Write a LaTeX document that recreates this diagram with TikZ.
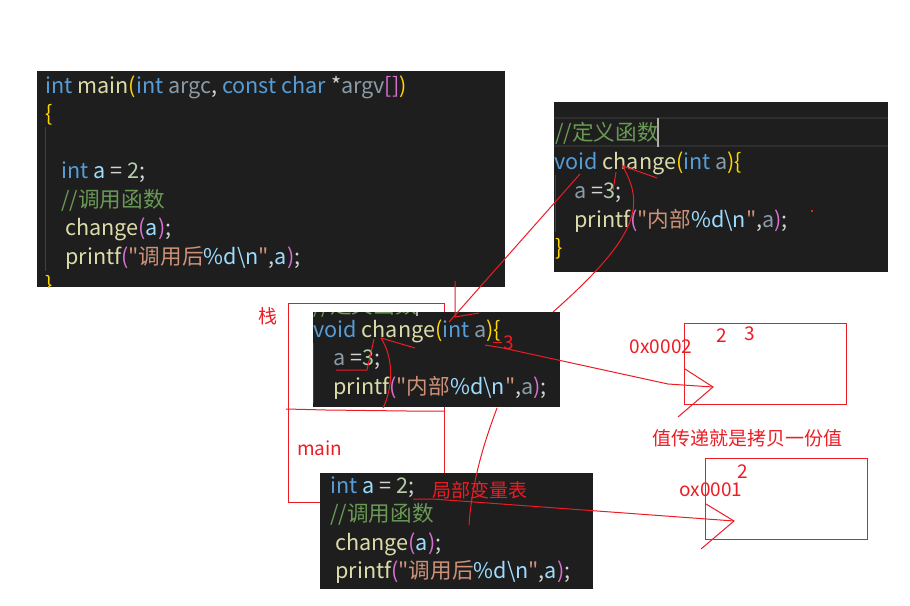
\documentclass[tikz,border=0pt]{standalone}
\usepackage{fontspec}
\setmainfont{Noto Sans CJK SC}[Ligatures=TeXOff]
\definecolor{codebg}{HTML}{1E1E1E}
\definecolor{kwblue}{HTML}{569CD6}
\definecolor{fnyellow}{HTML}{DCDCAA}
\definecolor{varblue}{HTML}{9CDCFE}
\definecolor{vardim}{HTML}{8A9BA8}
\definecolor{numgreen}{HTML}{B5CEA8}
\definecolor{strorange}{HTML}{CE9178}
\definecolor{comgreen}{HTML}{6A9955}
\definecolor{brgold}{HTML}{FFD700}
\definecolor{brpink}{HTML}{DA70D6}
\definecolor{optext}{HTML}{D4D4D4}
\definecolor{guidegray}{HTML}{404040}
\definecolor{linehl}{HTML}{2E2E2E}
\definecolor{cursorgray}{HTML}{AEAFAD}
\definecolor{anno}{RGB}{237,28,36}
\newcommand\codefont{\fontsize{10.8}{13}\selectfont}
\newcommand\notefont{\fontsize{9.5}{11}\selectfont}
\newcommand\ckw[1]{\textcolor{kwblue}{#1}}
\newcommand\cfn[1]{\textcolor{fnyellow}{#1}}
\newcommand\cvar[1]{\textcolor{varblue}{#1}}
\newcommand\cdim[1]{\textcolor{vardim}{#1}}
\newcommand\cnum[1]{\textcolor{numgreen}{#1}}
\newcommand\cstr[1]{\textcolor{strorange}{#1}}
\newcommand\ccom[1]{\textcolor{comgreen}{#1}}
\newcommand\cpa[1]{\textcolor{brgold}{#1}}
\newcommand\cpb[1]{\textcolor{brpink}{#1}}
\newcommand\cop[1]{\textcolor{optext}{#1}}
\tikzset{
  code/.style={anchor=base west, inner sep=0pt, font=\codefont},
  note/.style={text=anno, inner sep=0pt, font=\notefont},
  pen/.style={draw=anno, line width=0.5pt},
  guide/.style={draw=guidegray, line width=0.5pt}
}
\begin{document}
\begin{tikzpicture}[x=0.5pt,y=-0.5pt]
  \useasboundingbox (0,0) rectangle (910,605);
  % main() listing, top left
  \begin{scope}
    \clip (37,71) rectangle (505,287);
    \fill[codebg] (37,71) rectangle (505,287);
    \draw[guide] (45.5,127) -- (45.5,271);
    \node[code] (a1) at (45,93) {\ckw{int} \cfn{main}\cpa{(}\ckw{int} \cdim{argc}\cop{,} \ckw{const char} \cop{*}\cdim{argv}\cpb{[]}\cpa{)}};
    \node[code] (a2) at (45,121.5) {\cpa{\{}};
    \node[code] (a3) at (61,178.5) {\ckw{int} \cvar{a} \cop{=} \cnum{2}\cop{;}};
    \node[code] (a4) at (61,207) {\ccom{//调用函数}};
    \node[code] (a5) at (65,235.5) {\cfn{change}\cpb{(}\cvar{a}\cpb{)}\cop{;}};
    \node[code] (a6) at (65,264) {\cfn{printf}\cpb{(}\cstr{"调用后}\cvar{\%d\textbackslash n}\cstr{"}\cop{,}\cvar{a}\cpb{)}\cop{;}};
    \node[code] (a7) at (45,292.5) {\cpa{\}}};
  \end{scope}
  % change() listing, top right
  \begin{scope}
    \clip (554,102) rectangle (888,272);
    \fill[codebg] (554,102) rectangle (888,272);
    \draw[linehl, line width=0.7pt] (554,118) -- (888,118);
    \draw[linehl, line width=0.7pt] (554,146) -- (888,146);
    \fill[cursorgray] (657,118) rectangle (659,147);
    \draw[guide] (555.5,175) -- (555.5,232);
    \node[code] (b1) at (555,140.5) {\ccom{//定义函数}};
    \node[code] (b2) at (554,169) {\ckw{void} \cfn{change}\cpa{(}\ckw{int} \cdim{a}\cpa{)\{}};
    \node[code] (b3) at (574,198) {\cdim{a} \cop{=}\cnum{3}\cop{;}};
    \node[code] (b4) at (574,227) {\cfn{printf}\cpb{(}\cstr{"内部}\cvar{\%d\textbackslash n}\cstr{"}\cop{,}\cdim{a}\cpb{)}\cop{;}};
    \node[code] (b5) at (555,255.5) {\cpa{\}}};
  \end{scope}
  % stack outline, split into two frames
  \draw[pen] (288,303) rectangle (444,502);
  \draw[pen] (286,409) -- (326,410) -- (407,411) -- (445,411);
  \node[note] (zhan) at (268,316.5) {栈};
  \node[note, anchor=west] (mainlbl) at (297,448) {main};
  % change() frame on the stack
  \begin{scope}
    \clip (313,312) rectangle (560,407);
    \fill[codebg] (313,312) rectangle (560,407);
    \fill[cursorgray] (416,312) rectangle (418,316);
    \draw[guide] (313.5,343) -- (313.5,403);
    \node[code] (c1) at (313,313.5) {\ccom{//定义函数}};
    \node[code] (c2) at (313,337) {\ckw{void} \cfn{change}\cpa{(}\ckw{int} \cdim{a}\cpa{)\{}};
    \node[code] (c3) at (333,365.5) {\cdim{a} \cop{=}\cnum{3}\cop{;}};
    \node[code] (c4) at (333,394) {\cfn{printf}\cpb{(}\cstr{"内部}\cvar{\%d\textbackslash n}\cstr{"}\cop{,}\cdim{a}\cpb{)}\cop{;}};
  \end{scope}
  % main() frame on the stack
  \begin{scope}
    \clip (320,473) rectangle (593,589);
    \fill[codebg] (320,473) rectangle (593,589);
    \node[code] (d1) at (330,493) {\ckw{int} \cvar{a} \cop{=} \cnum{2}\cop{;}};
    \node[code] (d2) at (330,521.5) {\ccom{//调用函数}};
    \node[code] (d3) at (335,550) {\cfn{change}\cpb{(}\cvar{a}\cpb{)}\cop{;}};
    \node[code] (d4) at (335,578.5) {\cfn{printf}\cpb{(}\cstr{"调用后}\cvar{\%d\textbackslash n}\cstr{"}\cop{,}\cvar{a}\cpb{)}\cop{;}};
  \end{scope}
  % memory cells
  \draw[pen] (684,323) rectangle (846,404);
  \draw[pen] (705,458) rectangle (867,539);
  \node[note] (addr2) at (661,347) {0x0002};
  \node[note] (old2) at (722,336) {2};
  \node[note] (new3) at (750,334) {3};
  \node[note] (addr1) at (711,490) {ox0001};
  \node[note] (val2) at (743,472) {2};
  \node[note] (copy) at (747,438) {值传递就是拷贝一份值};
  \node[note] (table) at (480,490) {局部变量表};
  \node[note] (set3) at (509,343) {3};
  % strokes from the listing to the stack frame
  \coordinate (voidpt) at (580,174);
  \coordinate (frametop) at (449,322);
  \draw[pen] (voidpt) -- (frametop);
  \coordinate (vtop) at (455,281);
  \coordinate (vbot) at (455,317);
  \coordinate (vtip) at (479,313);
  \draw[pen] (vtop) -- (vbot) -- (vtip);
  \coordinate (chB) at (622,165);
  \coordinate (frameright) at (553,312);
  \draw[pen] (chB) .. controls (645,205) and (640,235) .. (frameright);
  \draw[pen] (616,172) -- (613,190);
  \draw[pen] (623,166) -- (657,178);
  % marks inside the change() frame
  \draw[pen] (336,370) -- (367,370) -- (374,339);
  \coordinate (chC) at (381,338);
  \draw[pen] (chC) -- (415,348);
  \draw[pen] (chC) .. controls (395,360) and (392,390) .. (383,408);
  \draw[pen] (493,342) -- (502,342);
  % arrow to 0x0002
  \coordinate (brace) at (485,345);
  \coordinate (tip2) at (713,387);
  \draw[pen] (brace) -- (503,348) -- (668,384) -- (tip2);
  \draw[pen] (685,369) -- (tip2) -- (678,417);
  % arrow to ox0001
  \coordinate (inta) at (413,499);
  \coordinate (tip1) at (734,521);
  \draw[pen] (inta) -- (433,499) -- (tip1);
  \draw[pen] (706,504) -- (tip1) -- (701,549);
  \coordinate (printfC) at (497,408);
  \coordinate (tableend) at (469,525);
  \draw[pen] (printfC) .. controls (485,440) and (472,480) .. (tableend);
  \fill[anno] (811,210) rectangle (813,212);
\end{tikzpicture}
\end{document}
